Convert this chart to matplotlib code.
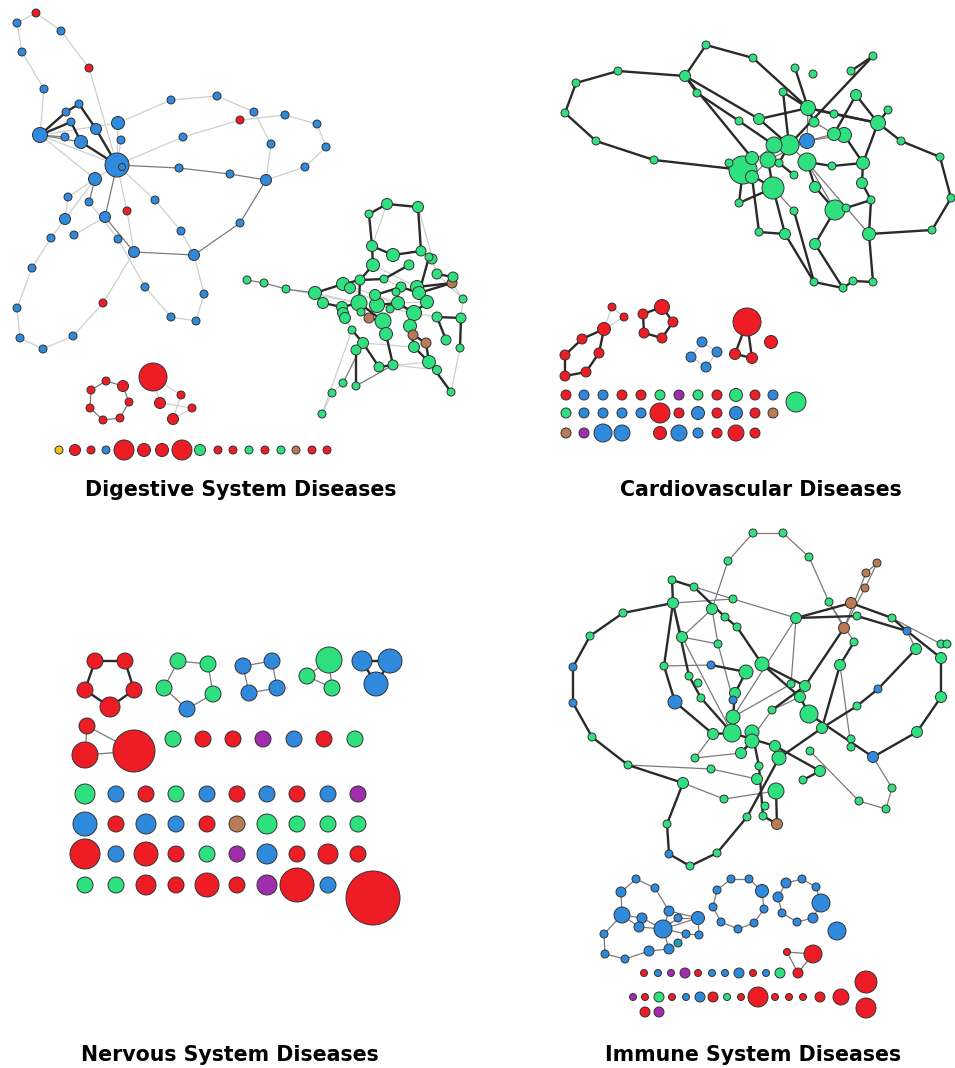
import matplotlib
matplotlib.use('Agg')
import matplotlib.pyplot as plt

# colour codes used in the node lists
COLORS = {'B': '#2f8ade', 'R': '#ee1c25', 'G': '#2fe07f', 'N': '#b97a56',
          'P': '#a22cae', 'Y': '#f4c518', 'T': '#1c9fb8'}
EDGE_STYLE = {'L': ('#cfcfcf', 0.9), 'M': ('#7a7a7a', 0.9), 'D': ('#2a2a2a', 1.7)}

# ---------------- Digestive System Diseases ----------------
# node = (x, y, diameter, colour)
dig_main_nodes = [
    (36, 13, 8, 'R'), (17, 23, 8, 'B'), (61, 31, 8, 'B'), (22, 52, 8, 'B'), (89, 68, 8, 'R'),
    (44, 89, 8, 'B'), (171, 100, 8, 'B'), (217, 96, 8, 'B'), (79, 104, 8, 'B'), (66, 112, 8, 'B'),
    (71, 122, 8, 'B'), (40, 135, 15, 'B'), (65, 137, 8, 'B'), (96, 129, 11, 'B'), (118, 123, 13, 'B'),
    (121, 140, 8, 'B'), (81, 142, 13, 'B'), (117, 165, 24, 'B'), (240, 120, 8, 'R'), (254, 112, 8, 'B'),
    (285, 115, 8, 'B'), (317, 124, 8, 'B'), (326, 147, 8, 'B'), (183, 137, 8, 'B'), (271, 144, 8, 'B'),
    (305, 167, 8, 'B'), (179, 168, 8, 'B'), (230, 174, 8, 'B'), (266, 180, 11, 'B'), (95, 179, 13, 'B'),
    (68, 197, 8, 'B'), (89, 202, 8, 'B'), (155, 200, 8, 'B'), (127, 211, 8, 'R'), (105, 217, 11, 'B'),
    (65, 219, 11, 'B'), (240, 223, 8, 'B'), (51, 238, 8, 'B'), (74, 235, 8, 'B'), (118, 239, 8, 'B'),
    (181, 231, 8, 'B'), (134, 252, 11, 'B'), (194, 255, 11, 'B'), (32, 268, 8, 'B'), (145, 287, 8, 'B'),
    (204, 294, 8, 'B'), (103, 303, 8, 'R'), (17, 308, 8, 'B'), (171, 317, 8, 'B'), (196, 321, 8, 'B'),
    (73, 336, 8, 'B'), (20, 338, 8, 'B'), (43, 349, 8, 'B'),
]
dig_main_paths = [
    ('L', [1, 0, 2, 4, 17]), ('L', [1, 3, 5, 11]), ('L', [14, 6, 7, 19, 24, 28]),
    ('L', [17, 23, 18, 20, 21, 22, 25, 28]), ('L', [11, 17]), ('L', [11, 29]), ('L', [17, 14]),
    ('L', [17, 15]), ('L', [17, 29]), ('L', [29, 30, 35, 37, 43, 47, 51, 52, 50, 46, 41]),
    ('L', [29, 35]), ('L', [38, 34]), ('L', [31, 39, 44, 48, 49, 45, 42]), ('L', [17, 32, 40, 42]),
    ('L', [17, 33, 41]), ('L', [11, 14]),
    ('M', [17, 26, 27, 28, 36, 42, 41, 34, 17]), ('M', [11, 16]), ('M', [11, 12]), ('M', [29, 31]),
    ('D', [11, 9, 8, 13, 17]), ('D', [11, 10, 16, 17]),
]
dig_self_loops = [(122, 167, 7)]

dig_green_nodes = [
    (387, 204, 11, 'G'), (418, 207, 11, 'G'), (369, 214, 8, 'G'), (372, 246, 11, 'G'), (393, 255, 13, 'G'),
    (421, 251, 10, 'G'), (429, 257, 8, 'G'), (432, 259, 10, 'G'), (409, 265, 10, 'G'), (373, 265, 13, 'G'),
    (247, 280, 8, 'G'), (264, 283, 8, 'G'), (286, 289, 8, 'G'), (315, 293, 13, 'G'), (343, 284, 13, 'G'),
    (350, 288, 11, 'G'), (360, 280, 10, 'G'), (384, 279, 8, 'G'), (401, 287, 10, 'G'), (417, 287, 13, 'G'),
    (419, 293, 13, 'G'), (437, 274, 10, 'G'), (452, 283, 10, 'N'), (453, 277, 10, 'G'), (463, 299, 8, 'G'),
    (323, 303, 11, 'G'), (375, 295, 11, 'G'), (359, 303, 16, 'G'), (377, 305, 15, 'G'), (398, 303, 13, 'G'),
    (427, 302, 13, 'G'), (396, 292, 8, 'G'), (342, 307, 11, 'G'), (343, 313, 11, 'G'), (345, 318, 11, 'G'),
    (369, 318, 10, 'N'), (361, 312, 8, 'G'), (383, 321, 16, 'G'), (390, 309, 8, 'G'), (414, 313, 15, 'G'),
    (437, 317, 10, 'G'), (461, 318, 10, 'G'), (410, 326, 13, 'G'), (386, 334, 13, 'G'), (413, 335, 10, 'N'),
    (352, 330, 8, 'G'), (446, 340, 10, 'G'), (363, 343, 11, 'G'), (426, 343, 10, 'N'), (414, 347, 11, 'G'),
    (460, 348, 8, 'G'), (356, 350, 10, 'G'), (429, 362, 13, 'G'), (393, 365, 10, 'G'), (379, 367, 10, 'G'),
    (437, 370, 9, 'G'), (343, 383, 8, 'G'), (356, 386, 8, 'G'), (332, 393, 8, 'G'), (451, 392, 8, 'G'),
    (322, 414, 8, 'G'),
]
dig_green_paths = [
    ('L', [0, 3]), ('L', [1, 21]), ('L', [5, 7, 21, 24]), ('L', [22, 24, 41]), ('L', [56, 58, 60, 45]),
    ('L', [12, 27]), ('L', [13, 27]), ('L', [9, 19]), ('L', [17, 18]), ('L', [31, 29]), ('L', [36, 28]),
    ('L', [33, 45]), ('L', [34, 45]), ('L', [53, 55]), ('L', [59, 50]), ('L', [14, 29, 30]),
    ('L', [26, 39]), ('L', [47, 49]), ('L', [15, 38, 40]), ('L', [54, 52]),
    ('M', [10, 11, 12, 13]), ('M', [56, 47]), ('M', [57, 53]),
    ('D', [2, 0, 1, 5]), ('D', [2, 3, 9, 16, 27, 37, 43, 53]), ('D', [3, 4, 5]), ('D', [13, 14, 16]),
    ('D', [13, 25]), ('D', [29, 39, 42, 49, 52, 55]), ('D', [52, 59]), ('D', [46, 40, 41, 50]),
    ('D', [21, 23]), ('D', [22, 19, 30, 39]), ('D', [35, 37]), ('D', [44, 48, 52]),
    ('D', [47, 51, 57]), ('D', [54, 53]), ('D', [45, 47, 54]), ('D', [32, 27]), ('D', [28, 29]),
    ('D', [26, 18, 20, 22]), ('D', [6, 20]), ('D', [8, 17, 16]), ('D', [25, 32, 33, 34]),
]

dig_small_nodes = [
    (91, 390, 8, 'R'), (106, 381, 8, 'R'), (123, 386, 11, 'R'), (129, 402, 8, 'R'), (120, 418, 8, 'R'),
    (103, 420, 8, 'R'), (90, 408, 8, 'R'),
    (153, 377, 28, 'R'), (181, 395, 8, 'R'), (160, 403, 11, 'R'), (192, 408, 8, 'R'), (173, 419, 11, 'R'),
]
dig_small_paths = [
    ('M', [0, 1, 2, 3, 4, 5, 6, 0]), ('L', [7, 9, 10, 11, 8, 7]),
]

dig_row_x = [59, 75, 91, 106, 124, 144, 162, 182, 200, 218, 233, 249, 265, 281, 296, 312, 327]
dig_row_d = [8, 11, 8, 8, 20, 13, 13, 20, 11, 8, 8, 8, 8, 8, 8, 8, 8]
dig_row_c = ['Y', 'R', 'R', 'B', 'R', 'R', 'R', 'R', 'G', 'R', 'R', 'G', 'R', 'G', 'N', 'R', 'R']
dig_row_y = 450

# ---------------- Cardiovascular Diseases ----------------
card_main_nodes = [
    (706, 45, 8, 'G'), (753, 58, 8, 'G'), (873, 56, 8, 'G'), (618, 71, 8, 'G'), (685, 76, 11, 'G'),
    (795, 68, 8, 'G'), (813, 74, 8, 'G'), (851, 71, 8, 'G'), (576, 83, 8, 'G'), (697, 93, 8, 'G'),
    (783, 92, 8, 'G'), (856, 95, 11, 'G'), (808, 108, 15, 'G'), (888, 110, 8, 'G'), (565, 113, 8, 'G'),
    (739, 121, 8, 'G'), (759, 119, 11, 'G'), (814, 122, 10, 'G'), (834, 114, 8, 'G'), (878, 123, 15, 'G'),
    (834, 134, 13, 'G'), (844, 135, 15, 'G'), (807, 141, 15, 'B'), (596, 141, 8, 'G'), (789, 145, 20, 'G'),
    (774, 145, 16, 'G'), (901, 141, 8, 'G'), (752, 158, 13, 'G'), (768, 160, 16, 'G'), (779, 163, 8, 'G'),
    (743, 170, 28, 'G'), (807, 162, 18, 'G'), (863, 163, 13, 'G'), (940, 157, 8, 'G'), (654, 160, 8, 'G'),
    (729, 163, 8, 'G'), (752, 177, 13, 'G'), (794, 175, 8, 'G'), (832, 166, 8, 'G'), (773, 188, 22, 'G'),
    (815, 187, 11, 'G'), (862, 183, 11, 'G'), (871, 200, 8, 'G'), (739, 203, 8, 'G'), (794, 211, 8, 'G'),
    (835, 210, 20, 'G'), (846, 208, 8, 'G'), (759, 232, 8, 'G'), (785, 234, 11, 'G'), (869, 234, 13, 'G'),
    (932, 230, 8, 'G'), (815, 244, 11, 'G'), (814, 282, 8, 'G'), (843, 288, 8, 'G'), (853, 281, 8, 'G'),
    (873, 282, 8, 'G'), (951, 198, 8, 'G'),
]
card_main_paths = [
    ('M', [22, 21]), ('M', [22, 20]), ('M', [22, 28]), ('M', [24, 31]), ('M', [31, 45]), ('M', [31, 49]),
    ('M', [17, 20]), ('M', [25, 30]), ('M', [35, 30]), ('M', [28, 36]), ('M', [22, 12]), ('M', [39, 44]),
    ('D', [30, 34, 23, 14, 8, 3, 4]), ('D', [4, 0, 1, 12]), ('D', [4, 16, 12]), ('D', [4, 9, 15, 25]),
    ('D', [4, 27]), ('D', [12, 5]), ('D', [12, 10, 24]), ('D', [12, 17]), ('D', [12, 18, 19]),
    ('D', [7, 2, 24]), ('D', [12, 19]), ('D', [11, 19]), ('D', [11, 20]), ('D', [19, 26, 33, 56, 50, 49]),
    ('D', [19, 32, 21]), ('D', [32, 41, 42, 49, 55, 54, 53, 52, 44]), ('D', [45, 46, 42]),
    ('D', [45, 51, 53]), ('D', [39, 48, 52]), ('D', [39, 43, 30]), ('D', [30, 36, 47, 48]),
    ('D', [31, 40, 45]), ('D', [31, 38, 32]), ('D', [29, 37]), ('D', [24, 29]), ('D', [27, 30]),
    ('D', [28, 39]), ('D', [13, 19]), ('D', [16, 24]), ('D', [30, 39]),
]

card_small_nodes = [
    (612, 307, 8, 'R'), (624, 317, 8, 'R'), (604, 329, 13, 'R'), (582, 339, 10, 'R'), (599, 353, 10, 'R'),
    (565, 355, 10, 'R'), (586, 372, 10, 'R'), (565, 376, 10, 'R'),
    (662, 307, 15, 'R'), (673, 322, 10, 'R'), (662, 338, 10, 'R'), (644, 333, 10, 'R'), (643, 314, 10, 'R'),
    (702, 342, 10, 'B'), (717, 352, 10, 'B'), (706, 367, 10, 'B'), (691, 357, 10, 'B'),
    (747, 322, 28, 'R'), (735, 354, 11, 'R'), (752, 358, 11, 'R'), (771, 342, 13, 'R'),
]
card_small_paths = [
    ('L', [0, 1, 2, 0]), ('D', [2, 3, 5, 7, 6, 4, 2]),
    ('D', [8, 9, 10, 11, 12, 8]), ('L', [13, 14, 15, 16, 13]), ('D', [18, 17, 19, 18]),
]

card_row_x = [566, 584, 603, 622, 641, 660, 679, 698, 717, 736, 755, 773]
card_row_y = [395, 413, 433]
card_row_d = [
    [10, 10, 10, 10, 10, 10, 10, 10, 10, 13, 10, 10],
    [10, 10, 10, 10, 10, 20, 10, 13, 10, 13, 10, 10],
    [10, 10, 18, 16, 0, 13, 16, 10, 10, 16, 10, 0],
]
card_row_c = [
    ['R', 'B', 'B', 'R', 'R', 'G', 'P', 'G', 'R', 'G', 'R', 'B'],
    ['G', 'B', 'B', 'B', 'B', 'R', 'R', 'B', 'R', 'B', 'R', 'N'],
    ['N', 'P', 'B', 'B', '-', 'R', 'B', 'B', 'R', 'R', 'R', '-'],
]
card_extra_nodes = [(796, 402, 20, 'G')]

# ---------------- Nervous System Diseases ----------------
nerv_nodes = [
    (95, 661, 16, 'R'), (125, 661, 16, 'R'), (134, 690, 16, 'R'), (110, 707, 20, 'R'), (85, 690, 16, 'R'),
    (178, 661, 16, 'G'), (208, 664, 16, 'G'), (213, 694, 16, 'G'), (187, 709, 16, 'B'), (164, 688, 16, 'G'),
    (243, 666, 16, 'B'), (272, 661, 16, 'B'), (277, 688, 16, 'B'), (249, 693, 16, 'B'),
    (329, 660, 26, 'G'), (307, 676, 16, 'G'), (332, 688, 16, 'G'),
    (362, 661, 20, 'B'), (390, 661, 24, 'B'), (376, 684, 24, 'B'),
    (87, 726, 16, 'R'), (85, 755, 26, 'R'), (134, 751, 42, 'R'),
]
nerv_paths = [
    ('D', [0, 1, 2, 3, 4, 0]), ('M', [5, 6, 7, 8, 9, 5]), ('M', [10, 11, 12, 13, 10]),
    ('M', [15, 16, 14]), ('M', [14, 15]), ('D', [17, 18, 19, 17]), ('M', [20, 21, 22, 20]),
]
nerv_row_x = [85, 116, 146, 176, 207, 237, 267, 297, 328, 358]
nerv_row_y = [794, 824, 854, 885]
nerv_row_d = [
    [20, 16, 16, 16, 16, 16, 16, 16, 16, 16],
    [24, 16, 20, 16, 16, 16, 20, 16, 16, 16],
    [30, 16, 24, 16, 16, 16, 20, 16, 20, 16],
    [16, 16, 20, 16, 24, 16, 20, 34, 16],
]
nerv_row_c = [
    ['G', 'B', 'R', 'G', 'B', 'R', 'B', 'R', 'B', 'P'],
    ['B', 'R', 'B', 'B', 'R', 'N', 'G', 'G', 'G', 'G'],
    ['R', 'B', 'R', 'R', 'G', 'P', 'B', 'R', 'R', 'R'],
    ['G', 'G', 'R', 'R', 'R', 'R', 'P', 'R', 'B'],
]
nerv_top_row_x = [173, 203, 233, 263, 294, 324, 355]
nerv_top_row_c = ['G', 'R', 'R', 'P', 'B', 'R', 'G']
nerv_top_row_y = 739
nerv_extra_nodes = [(373, 898, 54, 'R')]

# ---------------- Immune System Diseases ----------------
imm_main_nodes = [
    (753, 533, 8, 'G'), (783, 533, 8, 'G'), (809, 557, 8, 'G'), (728, 561, 8, 'G'), (877, 563, 8, 'N'),
    (866, 573, 8, 'N'), (865, 588, 8, 'N'), (672, 580, 8, 'G'), (694, 587, 8, 'G'), (733, 599, 8, 'G'),
    (829, 602, 8, 'G'), (851, 603, 11, 'N'), (673, 603, 11, 'G'), (623, 613, 8, 'G'), (712, 609, 11, 'G'),
    (725, 617, 8, 'G'), (796, 618, 11, 'G'), (857, 616, 8, 'G'), (892, 618, 8, 'G'), (844, 628, 11, 'N'),
    (907, 631, 8, 'B'), (737, 627, 8, 'G'), (590, 636, 8, 'G'), (682, 637, 11, 'G'), (854, 642, 8, 'G'),
    (916, 649, 11, 'G'), (941, 644, 8, 'G'), (947, 644, 8, 'G'), (941, 658, 11, 'G'), (718, 644, 8, 'G'),
    (573, 667, 8, 'B'), (711, 665, 8, 'B'), (664, 666, 8, 'G'), (840, 665, 11, 'G'), (762, 664, 14, 'G'),
    (746, 672, 14, 'G'), (689, 676, 8, 'G'), (698, 683, 8, 'G'), (791, 684, 8, 'G'), (805, 686, 11, 'G'),
    (878, 689, 8, 'B'), (701, 698, 8, 'G'), (735, 693, 11, 'G'), (733, 700, 8, 'B'), (800, 697, 11, 'G'),
    (941, 697, 11, 'G'), (573, 703, 8, 'B'), (675, 702, 14, 'B'), (772, 710, 8, 'G'), (857, 706, 8, 'G'),
    (733, 717, 14, 'G'), (809, 714, 18, 'G'), (822, 728, 11, 'G'), (752, 732, 14, 'G'), (732, 733, 18, 'G'),
    (713, 734, 11, 'G'), (752, 741, 14, 'G'), (917, 732, 11, 'G'), (775, 746, 11, 'G'), (851, 739, 8, 'G'),
    (851, 747, 8, 'G'), (592, 737, 8, 'G'), (741, 753, 11, 'G'), (779, 758, 14, 'G'), (810, 751, 8, 'G'),
    (873, 757, 11, 'B'), (695, 758, 8, 'G'), (759, 766, 8, 'G'), (711, 769, 8, 'G'), (628, 765, 8, 'G'),
    (820, 771, 11, 'G'), (803, 780, 8, 'G'), (757, 779, 11, 'G'), (683, 783, 11, 'G'), (892, 788, 8, 'G'),
    (776, 791, 16, 'G'), (724, 799, 8, 'G'), (859, 801, 8, 'G'), (886, 809, 8, 'G'), (765, 806, 8, 'G'),
    (763, 816, 8, 'G'), (747, 817, 8, 'G'), (777, 824, 11, 'N'), (667, 824, 8, 'G'), (717, 853, 8, 'G'),
    (669, 854, 8, 'B'), (690, 866, 8, 'G'),
]
imm_main_paths = [
    ('M', [3, 0, 1, 2, 10, 24]), ('M', [3, 14, 29, 43]), ('M', [7, 9, 16]), ('M', [12, 9]),
    ('M', [23, 14]), ('M', [16, 50]), ('M', [4, 5, 19]), ('M', [4, 6, 19]), ('M', [12, 23, 29]),
    ('M', [73, 76, 75]), ('M', [62, 66]), ('M', [65, 74, 78, 77, 64]), ('M', [33, 60, 59]),
    ('M', [10, 19]), ('M', [23, 54]), ('M', [32, 31]), ('M', [50, 38, 16]), ('M', [62, 48, 44]),
    ('M', [69, 68, 72]), ('M', [66, 55]), ('M', [25, 20]), ('M', [18, 26, 27]),
    ('D', [12, 13, 22, 30, 46, 61, 69, 73, 83, 85, 86, 84]), ('D', [24, 33, 52, 63, 81, 84]),
    ('D', [19, 39]), ('D', [16, 11, 18, 20]), ('D', [16, 17, 20, 28]), ('D', [28, 45, 57, 65]),
    ('D', [34, 44, 51, 65]), ('D', [25, 40, 49, 52]), ('D', [7, 12]), ('D', [7, 8, 15, 21, 34]),
    ('D', [12, 32, 47, 55, 54]), ('D', [12, 36, 41, 54]), ('D', [31, 35, 42, 50]),
    ('D', [75, 82]), ('D', [53, 67, 80, 82]), ('D', [58, 70, 71]), ('D', [54, 58]), ('D', [39, 48]),
    ('D', [56, 62]), ('D', [53, 56]), ('D', [34, 39]),
]

imm_small_nodes = [
    (621, 892, 10, 'B'), (636, 879, 8, 'B'), (655, 888, 8, 'B'), (622, 915, 16, 'B'), (642, 918, 10, 'B'),
    (639, 927, 10, 'B'), (663, 929, 18, 'B'), (669, 911, 10, 'B'), (678, 918, 8, 'B'), (698, 918, 13, 'B'),
    (686, 934, 8, 'B'), (699, 935, 8, 'B'), (678, 943, 8, 'T'), (669, 949, 10, 'B'), (649, 951, 10, 'B'),
    (625, 959, 8, 'B'), (605, 954, 8, 'B'), (604, 934, 8, 'B'),
    (731, 879, 8, 'B'), (749, 879, 8, 'B'), (762, 891, 13, 'B'), (764, 909, 8, 'B'), (754, 923, 8, 'B'),
    (738, 929, 8, 'B'), (721, 922, 8, 'B'), (713, 907, 8, 'B'), (717, 890, 8, 'B'),
    (786, 883, 10, 'B'), (802, 879, 8, 'B'), (816, 887, 8, 'B'), (821, 903, 18, 'B'), (813, 918, 10, 'B'),
    (797, 922, 8, 'B'), (782, 913, 8, 'B'), (778, 897, 10, 'B'),
    (837, 931, 18, 'B'),
    (787, 952, 7, 'R'), (813, 954, 18, 'R'), (798, 973, 10, 'R'),
]
imm_small_paths = [
    ('M', [17, 3, 0, 1, 2, 7, 6]), ('M', [17, 16, 15, 14, 13, 6]), ('M', [3, 4, 6]), ('M', [3, 5, 6]),
    ('M', [6, 9, 11, 10, 6]), ('M', [6, 8, 9]), ('M', [7, 9]), ('L', [4, 5]), ('L', [12, 10]),
    ('M', [18, 19, 20, 21, 22, 23, 24, 25, 26, 18]), ('M', [27, 28, 29, 30, 31, 32, 33, 34, 27]),
    ('M', [36, 37, 38, 36]),
]

imm_row1_x = [644, 658, 671, 685, 698, 712, 725, 739, 753, 766, 780]
imm_row1_d = [7, 7, 7, 10, 7, 7, 7, 10, 7, 7, 10]
imm_row1_c = ['R', 'B', 'P', 'P', 'R', 'B', 'B', 'B', 'R', 'B', 'G']
imm_row1_y = 973
imm_row2_x = [633, 645, 659, 672, 686, 700, 713, 727, 741, 758, 775, 789, 803, 820, 841]
imm_row2_d = [7, 7, 10, 7, 7, 10, 10, 7, 7, 20, 7, 7, 7, 10, 16]
imm_row2_c = ['P', 'R', 'G', 'R', 'B', 'B', 'R', 'G', 'R', 'R', 'R', 'R', 'R', 'R', 'R']
imm_row2_y = 997
imm_extra_nodes = [(866, 982, 22, 'R'), (866, 1008, 20, 'R'), (645, 1012, 10, 'R'), (659, 1012, 10, 'P')]

titles = ['Digestive System Diseases', 'Cardiovascular Diseases',
          'Nervous System Diseases', 'Immune System Diseases']
title_pos = [(241, 490), (761, 490), (230, 1055), (753, 1055)]

DPI = 100
PX = 72.0 / DPI


def draw_nodes(ax, nodes):
    nodes = sorted(nodes, key=lambda n: -n[2])
    ax.scatter([n[0] for n in nodes], [n[1] for n in nodes],
               s=[(n[2] * PX) ** 2 for n in nodes],
               c=[COLORS[n[3]] for n in nodes],
               edgecolors='#333333', linewidths=0.7, zorder=3)


def draw_edges(ax, nodes, paths):
    for style, path in paths:
        color, lw = EDGE_STYLE[style]
        z = 2 if style == 'D' else 1
        for a, b in zip(path[:-1], path[1:]):
            ax.plot([nodes[a][0], nodes[b][0]], [nodes[a][1], nodes[b][1]],
                    color=color, lw=lw, zorder=z, solid_capstyle='round')


def row_nodes(xs, y, ds, cs):
    return [(x, y, d, c) for x, d, c in zip(xs, ds, cs) if c != '-' and d > 0]


fig = plt.figure(figsize=(9.55, 10.68), dpi=DPI)
ax = fig.add_axes([0, 0, 1, 1])
ax.set_xlim(0, 955)
ax.set_ylim(1068, 0)
ax.axis('off')

components = [
    (dig_main_nodes, dig_main_paths), (dig_green_nodes, dig_green_paths),
    (dig_small_nodes, dig_small_paths), (card_main_nodes, card_main_paths),
    (card_small_nodes, card_small_paths), (nerv_nodes, nerv_paths),
    (imm_main_nodes, imm_main_paths), (imm_small_nodes, imm_small_paths),
]
for nodes, paths in components:
    draw_edges(ax, nodes, paths)
    draw_nodes(ax, nodes)

# self loop drawn inside the digestive hub
for x, y, d in dig_self_loops:
    ax.scatter([x], [y], s=(d * PX) ** 2, facecolors='none', edgecolors='#333333',
               linewidths=0.7, zorder=4)

# isolated nodes laid out in rows
singles = row_nodes(dig_row_x, dig_row_y, dig_row_d, dig_row_c)
for y, ds, cs in zip(card_row_y, card_row_d, card_row_c):
    singles += row_nodes(card_row_x, y, ds, cs)
singles += card_extra_nodes
singles += row_nodes(nerv_top_row_x, nerv_top_row_y, [16] * len(nerv_top_row_x), nerv_top_row_c)
for y, ds, cs in zip(nerv_row_y, nerv_row_d, nerv_row_c):
    singles += row_nodes(nerv_row_x, y, ds, cs)
singles += nerv_extra_nodes
singles += row_nodes(imm_row1_x, imm_row1_y, imm_row1_d, imm_row1_c)
singles += row_nodes(imm_row2_x, imm_row2_y, imm_row2_d, imm_row2_c)
singles += imm_extra_nodes
draw_nodes(ax, singles)

for t, (x, y) in zip(titles, title_pos):
    ax.text(x, y, t, ha='center', va='center', fontsize=14.8, fontweight='bold',
            family='DejaVu Sans', color='black')

fig.savefig('out.png', dpi=DPI, facecolor='white')
